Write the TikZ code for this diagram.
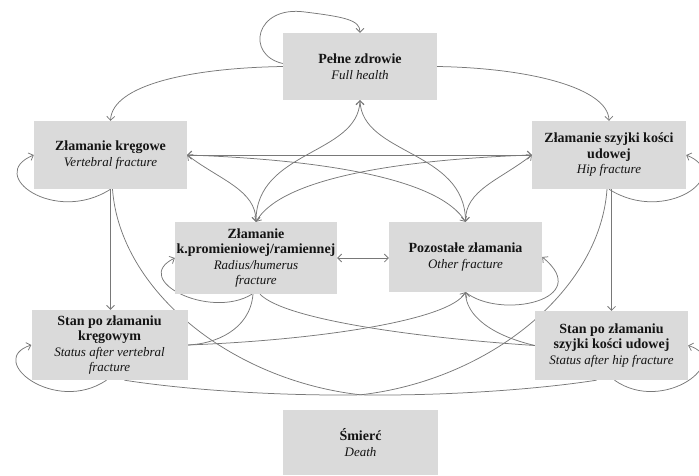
\documentclass[tikz,border=0pt]{standalone}
\usepackage{fontspec}
\setmainfont{Liberation Serif}
\usetikzlibrary{arrows.meta,backgrounds}
\definecolor{boxgray}{RGB}{218,218,218}
\definecolor{linegray}{RGB}{120,120,120}
\definecolor{txt}{RGB}{20,20,20}
\newcommand{\engl}[1]{{\fontsize{13}{15.5}\selectfont\itshape #1}}

\begin{document}
\begin{tikzpicture}[x=1pt,y=-1pt,
    >={Straight Barb[length=4pt,width=8pt]},
    state/.style={fill=boxgray, text=txt, align=center, inner sep=0pt,
        font=\fontsize{14}{15.5}\selectfont},
    link/.style={draw=linegray, line width=0.75pt}]
    \useasboundingbox (0,0) rectangle (699,475);
    % states
    \node[state, minimum width=154pt, minimum height=67pt] (full) at (360,66.5) {\textbf{Pełne zdrowie}\\\engl{Full health}};
    \node[state, minimum width=153pt, minimum height=68pt] (vf) at (110.5,155) {\textbf{Złamanie kręgowe}\\\engl{Vertebral fracture}};
    \node[state, minimum width=154pt, minimum height=68pt] (hf) at (609,155) {\textbf{Złamanie szyjki kości}\\\textbf{udowej}\\\engl{Hip fracture}};
    \node[state, minimum width=162pt, minimum height=72pt] (rh) at (256,258) {\textbf{Złamanie}\\\textbf{k.promieniowej/ramiennej}\\\engl{Radius/humerus}\\\engl{fracture}};
    \node[state, minimum width=153pt, minimum height=70pt] (of) at (465.5,257) {\textbf{Pozostałe złamania}\\\engl{Other fracture}};
    \node[state, minimum width=156pt, minimum height=70pt] (svf) at (109.5,345) {\textbf{Stan po złamaniu}\\\textbf{kręgowym}\\\engl{Status after vertebral}\\\engl{fracture}};
    \node[state, minimum width=153pt, minimum height=69pt] (shf) at (611.5,345.5) {\textbf{Stan po złamaniu}\\\textbf{szyjki kości udowej}\\\engl{Status after hip fracture}};
    \node[state, minimum width=155pt, minimum height=65pt] (death) at (360.5,442.5) {\textbf{Śmierć}\\\engl{Death}};
    \coordinate (dth) at ([yshift=15pt]death.north);

    \begin{pgfonlayer}{background}
    % self loops
    \draw[link,->] ([yshift=3pt]full.west) .. controls (245,55) and (255,5) .. (305,12) .. controls (345,17) and (360,20) .. (full.north);
    \draw[link,->] (vf.south) .. controls (55,225) and (-15,175) .. (vf.west);
    \draw[link,->] (hf.south) .. controls (665,225) and (735,175) .. (hf.east);
    \draw[link,->] ([xshift=-3pt]svf.south) .. controls (55,415) and (-15,360) .. (svf.west);
    \draw[link,->] ([xshift=3pt]shf.south) .. controls (664,415) and (734,360) .. (shf.east);
    \draw[link,->] ([xshift=-4pt]rh.south) .. controls (210,320) and (130,280) .. (rh.west);
    \draw[link,->] (of.south) .. controls (500,320) and (595,300) .. (of.east);
    % from full health
    \draw[link,->] (full.west) .. controls (190,68) and (112,85) .. (vf.north);
    \draw[link,->] (full.east) .. controls (530,68) and (608,88) .. (hf.north);
    % after fracture
    \draw[link,->] (vf.south) -- (vf.south |- svf.north);
    \draw[link,->] (shf.north |- hf.south) -- (shf.north);
    % middle
    \draw[link,<->] (vf.east) -- (hf.west);
    \draw[link,<->] (vf.east) .. controls (330,160) and (440,180) .. (of.north);
    \draw[link,<->] (hf.west) .. controls (390,160) and (280,180) .. (rh.north);
    \draw[link,<->] (vf.east) .. controls (220,180) and (256,190) .. (rh.north);
    \draw[link,<->] (hf.west) .. controls (500,180) and (465,190) .. (of.north);
    \draw[link,<->] (full.south) .. controls (358,155) and (256,150) .. (rh.north);
    \draw[link,<->] (full.south) .. controls (362,155) and (465,150) .. (of.north);
    \draw[link,<->] (rh.east) -- (rh.east -| of.west);
    % lower part
    \draw[link] ([xshift=-3pt]rh.south) .. controls (250,330) and (215,344) .. (svf.east);
    \draw[link,->] (svf.east) .. controls (320,340) and (450,320) .. (of.south);
    \draw[link] ([xshift=4pt]rh.south) .. controls (285,320) and (420,338) .. (shf.west);
    \draw[link,->] (shf.west) .. controls (490,335) and (466,315) .. (of.south);
    % towards death
    \draw[link] ([xshift=2pt]vf.south) .. controls (120,290) and (230,380) .. (dth);
    \draw[link] ([xshift=-2pt]hf.south) .. controls (600,290) and (490,380) .. (dth);
    \draw[link] ([xshift=15pt]svf.south) .. controls (200,392) and (300,396) .. (dth);
    \draw[link] ([xshift=-15pt]shf.south) .. controls (520,392) and (420,396) .. (dth);
    \end{pgfonlayer}
\end{tikzpicture}
\end{document}
